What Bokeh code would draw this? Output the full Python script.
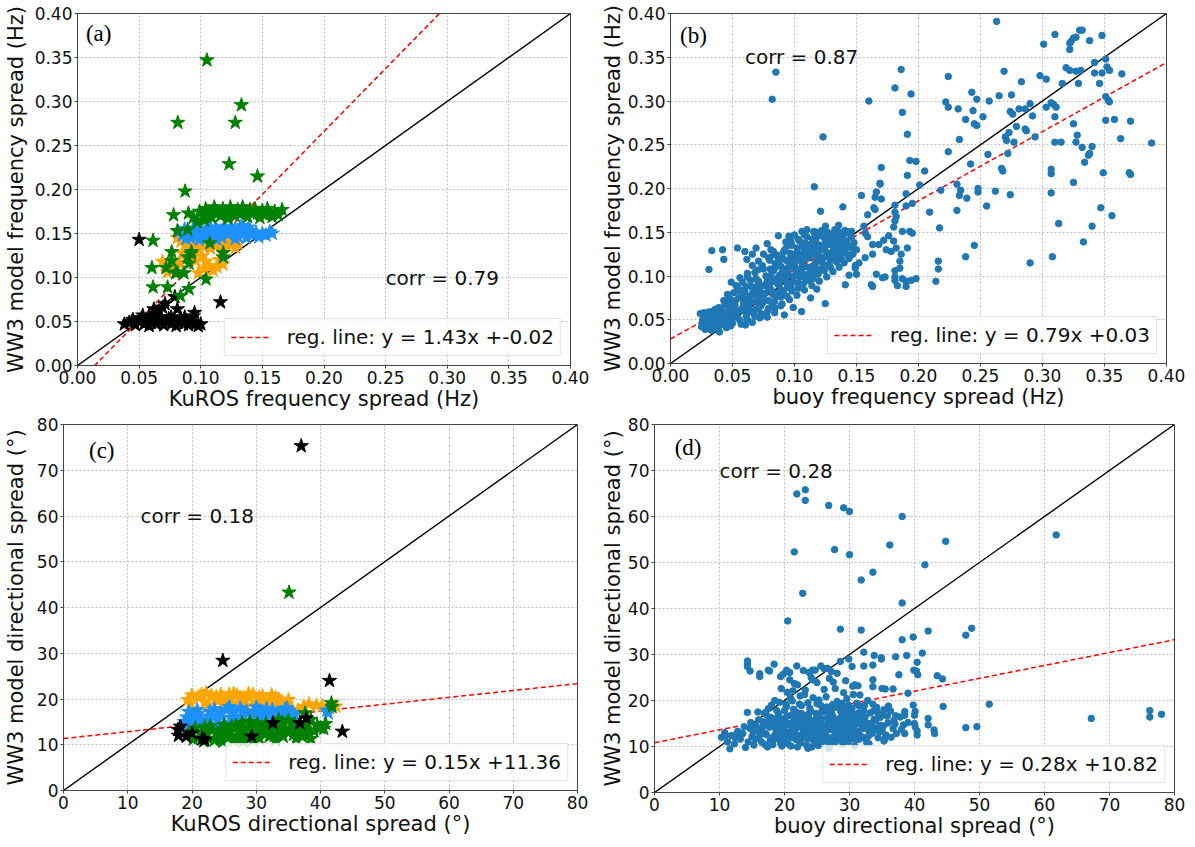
from bokeh.plotting import figure
from bokeh.layouts import column, row
from bokeh.models import Range1d, FixedTicker, Label, NumeralTickFormatter, BasicTickFormatter
from bokeh.embed import file_html
from bokeh.resources import INLINE

# ---------------- data ----------------
freq_ticks = [0.0, 0.05, 0.1, 0.15, 0.2, 0.25, 0.3, 0.35, 0.4]
dir_ticks = [0, 10, 20, 30, 40, 50, 60, 70, 80]

panel_tags = ["(a)", "(b)", "(c)", "(d)"]
corr_texts = ["corr = 0.79", "corr = 0.87", "corr = 0.18", "corr = 0.28"]
reg_slopes = [1.43, 0.79, 0.15, 0.28]
reg_intercepts = [-0.02, 0.028, 11.36, 10.82]
reg_labels = ["reg. line: y = 1.43x +-0.02", "reg. line: y = 0.79x +0.03",
              "reg. line: y = 0.15x +11.36", "reg. line: y = 0.28x +10.82"]

# panel (a): KuROS vs WW3 frequency spread (four groups)
a_orange = [(0.081,0.145),(0.084,0.141),(0.087,0.146),(0.089,0.138),(0.092,0.143),(0.095,0.139),(0.097,0.145),
            (0.100,0.137),(0.102,0.142),(0.105,0.146),(0.107,0.139),(0.110,0.143),(0.112,0.136),(0.115,0.141),
            (0.117,0.145),(0.120,0.138),(0.122,0.143),(0.125,0.137),(0.127,0.142),(0.130,0.139),(0.091,0.134),
            (0.099,0.132),(0.108,0.133),(0.118,0.132),(0.128,0.134),(0.085,0.128),(0.088,0.122),(0.093,0.126),
            (0.096,0.119),(0.101,0.124),(0.104,0.118),(0.107,0.113),(0.110,0.108),(0.113,0.112),(0.103,0.110),
            (0.098,0.105),(0.069,0.118),(0.072,0.113),(0.075,0.117),(0.077,0.110),(0.073,0.106),(0.080,0.112),
            (0.083,0.116),(0.115,0.120),(0.118,0.115)]
a_blue = [(0.082,0.152),(0.085,0.148),(0.087,0.155),(0.090,0.150),(0.092,0.145),(0.095,0.152),(0.097,0.147),
          (0.100,0.155),(0.102,0.150),(0.105,0.145),(0.107,0.153),(0.110,0.148),(0.112,0.156),(0.115,0.151),
          (0.117,0.146),(0.120,0.154),(0.122,0.149),(0.125,0.157),(0.127,0.152),(0.130,0.147),(0.132,0.155),
          (0.135,0.150),(0.137,0.145),(0.140,0.153),(0.142,0.148),(0.145,0.151),(0.147,0.146),(0.150,0.150),
          (0.153,0.148),(0.156,0.152),(0.158,0.150),(0.088,0.144),(0.099,0.143),(0.113,0.143),(0.128,0.144),
          (0.119,0.158),(0.133,0.159),(0.139,0.157),(0.108,0.157),(0.094,0.156)]
a_green = [(0.099,0.175),(0.102,0.170),(0.104,0.178),(0.107,0.173),(0.109,0.168),(0.111,0.180),(0.113,0.175),
           (0.116,0.170),(0.118,0.178),(0.120,0.173),(0.122,0.167),(0.124,0.180),(0.126,0.175),(0.128,0.170),
           (0.130,0.177),(0.132,0.172),(0.134,0.180),(0.136,0.175),(0.138,0.169),(0.140,0.177),(0.142,0.172),
           (0.144,0.178),(0.146,0.173),(0.148,0.168),(0.150,0.176),(0.152,0.171),(0.154,0.178),(0.156,0.173),
           (0.158,0.169),(0.160,0.175),(0.163,0.171),(0.166,0.177),(0.103,0.165),(0.097,0.163),(0.094,0.168),
           (0.105,0.347),(0.133,0.296),(0.0814,0.276),(0.128,0.276),(0.123,0.229),(0.146,0.215),(0.0873,0.198),
           (0.078,0.171),(0.090,0.173),(0.0895,0.1545),(0.081,0.153),(0.0613,0.142),(0.0765,0.129),(0.0604,0.111),
           (0.0613,0.089),(0.0731,0.089),(0.0765,0.119),(0.0718,0.111),(0.0796,0.105),(0.0864,0.105),(0.0904,0.087),
           (0.0836,0.079),(0.1043,0.098),(0.1074,0.139),(0.1183,0.128),(0.1183,0.123),(0.0926,0.129),(0.0895,0.123),
           (0.0905,0.116),(0.092,0.127),(0.081,0.106)]
a_black = [(0.038,0.047),(0.042,0.049),(0.045,0.052),(0.047,0.046),(0.050,0.050),(0.052,0.054),(0.054,0.047),
           (0.056,0.051),(0.058,0.045),(0.060,0.049),(0.062,0.053),(0.064,0.047),(0.066,0.051),(0.068,0.055),
           (0.070,0.046),(0.072,0.050),(0.074,0.053),(0.076,0.047),(0.078,0.051),(0.080,0.045),(0.082,0.049),
           (0.084,0.053),(0.086,0.047),(0.088,0.051),(0.090,0.046),(0.092,0.050),(0.094,0.056),(0.096,0.047),
           (0.098,0.045),(0.100,0.047),(0.058,0.056),(0.063,0.058),(0.066,0.062),(0.069,0.066),(0.071,0.070),
           (0.062,0.064),(0.079,0.078),(0.081,0.064),(0.095,0.060),(0.050,0.143),(0.116,0.072),(0.044,0.050),
           (0.053,0.057),(0.076,0.055),(0.087,0.055)]

# panel (b): buoy vs WW3 frequency spread
b_points = [
    (0.263,0.391),(0.085,0.333),(0.082,0.302),(0.186,0.336),(0.181,0.315),(0.194,0.308),(0.187,0.287),(0.160,0.300),
    (0.123,0.259),(0.191,0.262),(0.116,0.202),(0.121,0.174),(0.139,0.179),(0.224,0.328),(0.222,0.299),(0.224,0.293),
    (0.232,0.291),(0.243,0.310),(0.247,0.302),(0.244,0.289),(0.238,0.279),(0.252,0.282),(0.245,0.274),(0.247,0.272),
    (0.257,0.300),(0.265,0.306),(0.269,0.334),(0.275,0.307),(0.283,0.322),(0.274,0.288),(0.276,0.285),(0.281,0.291),
    (0.286,0.291),(0.279,0.271),(0.273,0.264),(0.270,0.259),(0.271,0.255),(0.277,0.253),(0.272,0.240),(0.286,0.268),
    (0.287,0.266),(0.292,0.283),(0.290,0.297),(0.294,0.259),(0.298,0.329),(0.303,0.325),(0.301,0.365),(0.310,0.376),
    (0.322,0.366),(0.323,0.368),(0.325,0.372),(0.327,0.373),(0.322,0.359),(0.330,0.381),(0.332,0.381),(0.338,0.369),
    (0.348,0.375),(0.316,0.320),(0.319,0.338),(0.322,0.335),(0.327,0.334),(0.331,0.335),(0.329,0.320),(0.342,0.344),
    (0.342,0.332),(0.348,0.332),(0.346,0.320),(0.351,0.348),(0.352,0.339),(0.354,0.335),(0.364,0.331),(0.303,0.293),
    (0.309,0.296),(0.311,0.293),(0.310,0.282),(0.307,0.298),(0.325,0.274),(0.328,0.261),(0.310,0.253),(0.315,0.253),
    (0.327,0.253),(0.332,0.247),(0.340,0.248),(0.337,0.238),(0.338,0.240),(0.334,0.230),(0.307,0.217),(0.307,0.222),
    (0.349,0.218),(0.358,0.279),(0.351,0.278),(0.351,0.305),(0.353,0.301),(0.354,0.299),(0.371,0.277),(0.363,0.257),
    (0.370,0.218),(0.371,0.216),(0.388,0.252),(0.325,0.207),(0.307,0.195),(0.347,0.178),(0.356,0.169),(0.313,0.160),
    (0.340,0.157),(0.333,0.139),(0.308,0.122),(0.290,0.115),(0.262,0.197),(0.274,0.193),(0.255,0.180),(0.248,0.200),
    (0.248,0.196),(0.239,0.189),(0.233,0.192),(0.234,0.198),(0.231,0.205),(0.231,0.175),(0.242,0.228),(0.224,0.242),
    (0.233,0.256),(0.256,0.239),(0.267,0.223),(0.268,0.220),(0.245,0.135),(0.238,0.122),(0.216,0.117),(0.216,0.108),
    (0.214,0.094),(0.217,0.155),(0.209,0.173),(0.218,0.198),(0.205,0.220),(0.201,0.204),(0.198,0.231),(0.193,0.232),
    (0.191,0.215),(0.190,0.194),(0.195,0.183),(0.190,0.180),(0.170,0.224),(0.169,0.206),(0.169,0.205),(0.166,0.196),
    (0.170,0.188),(0.165,0.190),(0.164,0.178),(0.165,0.176),(0.159,0.170),(0.154,0.192),(0.181,0.181),(0.181,0.173),
    (0.182,0.168),(0.181,0.163),(0.180,0.156),(0.187,0.151),(0.193,0.151),(0.195,0.149),(0.176,0.146),(0.180,0.140),
    (0.182,0.132),(0.178,0.128),(0.191,0.132),(0.186,0.125),(0.185,0.117),(0.185,0.109),(0.181,0.106),(0.181,0.099),
    (0.181,0.095),(0.183,0.089),(0.187,0.097),(0.190,0.094),(0.190,0.088),(0.194,0.095),(0.198,0.097),(0.173,0.099),
    (0.171,0.098),(0.166,0.102),(0.162,0.090),(0.163,0.088),(0.174,0.130),(0.172,0.141),(0.168,0.136),(0.163,0.136),
    (0.159,0.145),(0.157,0.149),(0.156,0.157),(0.163,0.125),(0.157,0.121),(0.152,0.115),(0.149,0.109),(0.150,0.102),
    (0.144,0.101),(0.141,0.090),
    (0.024,0.057),(0.026,0.050),(0.027,0.044),(0.028,0.039),(0.029,0.053),(0.030,0.047),(0.031,0.042),(0.032,0.056),
    (0.033,0.038),(0.034,0.049),(0.035,0.044),(0.036,0.053),(0.037,0.058),(0.038,0.041),(0.039,0.047),(0.040,0.052),
    (0.041,0.062),(0.042,0.045),(0.043,0.057),(0.044,0.068),(0.045,0.041),(0.046,0.050),(0.047,0.063),(0.048,0.074),
    (0.049,0.055),(0.050,0.046),(0.051,0.081),(0.052,0.067),(0.053,0.058),(0.054,0.088),(0.055,0.075),(0.056,0.049),
    (0.057,0.062),(0.058,0.093),(0.059,0.070),(0.060,0.082),(0.061,0.054),(0.062,0.099),(0.063,0.065),(0.064,0.077),
    (0.065,0.088),(0.066,0.047),(0.067,0.058),(0.068,0.104),(0.069,0.071),(0.070,0.083),(0.071,0.094),(0.072,0.052),
    (0.073,0.066),(0.074,0.112),(0.075,0.078),(0.076,0.089),(0.077,0.100),(0.078,0.059),(0.079,0.072),(0.080,0.118),
    (0.081,0.084),(0.082,0.095),(0.083,0.106),(0.084,0.063),(0.085,0.077),(0.086,0.124),(0.087,0.090),(0.088,0.101),
    (0.089,0.111),(0.090,0.068),(0.091,0.082),(0.092,0.130),(0.093,0.095),(0.094,0.106),(0.095,0.116),(0.096,0.073),
    (0.097,0.087),(0.098,0.135),(0.099,0.100),(0.100,0.111),(0.101,0.121),(0.102,0.078),(0.103,0.092),(0.104,0.140),
    (0.105,0.105),(0.106,0.116),(0.107,0.126),(0.108,0.084),(0.109,0.097),(0.110,0.145),(0.111,0.110),(0.112,0.121),
    (0.113,0.131),(0.114,0.089),(0.115,0.103),(0.116,0.149),(0.117,0.115),(0.118,0.126),(0.119,0.136),(0.120,0.094),
    (0.121,0.108),(0.122,0.152),(0.123,0.120),(0.124,0.131),(0.125,0.141),(0.126,0.099),(0.127,0.113),(0.128,0.125),
    (0.129,0.136),(0.130,0.146),(0.131,0.105),(0.132,0.118),(0.133,0.130),(0.134,0.141),(0.135,0.151),(0.136,0.110),
    (0.137,0.123),(0.138,0.135),(0.139,0.146),(0.140,0.115),(0.141,0.128),(0.142,0.140),(0.143,0.150),(0.144,0.120),
    (0.145,0.133),(0.146,0.144),(0.147,0.125),(0.148,0.138),(0.149,0.112),(0.150,0.130),
    (0.0255,0.046),(0.0275,0.055),(0.0305,0.040),(0.0345,0.060),(0.0395,0.036),(0.0425,0.052),(0.0465,0.058),
    (0.0485,0.043),(0.0525,0.072),(0.0545,0.052),(0.0565,0.084),(0.0585,0.061),(0.0605,0.044),(0.0625,0.073),
    (0.0645,0.095),(0.0665,0.082),(0.0685,0.062),(0.0705,0.107),(0.0725,0.088),(0.0745,0.070),(0.0765,0.055),
    (0.0785,0.096),(0.0805,0.108),(0.0825,0.079),(0.0845,0.114),(0.0865,0.098),(0.0885,0.085),(0.0905,0.120),
    (0.0925,0.108),(0.0945,0.092),(0.0965,0.126),(0.0985,0.115),(0.1005,0.100),(0.1025,0.132),(0.1045,0.118),
    (0.1065,0.103),(0.1085,0.138),(0.1105,0.124),(0.1125,0.110),(0.1145,0.142),(0.1165,0.130),(0.1185,0.117),
    (0.1205,0.146),(0.1225,0.135),(0.1245,0.122),(0.1265,0.150),(0.1285,0.140),(0.1305,0.127),(0.1325,0.153),
    (0.1345,0.137),(0.1365,0.145),(0.1385,0.128),(0.1405,0.152),(0.1425,0.136),(0.1445,0.148),
    (0.031,0.1075),(0.0333,0.129),(0.042,0.130),(0.043,0.119),(0.054,0.132),(0.0616,0.119),(0.060,0.128),
    (0.069,0.132),(0.066,0.125),(0.0955,0.1455),(0.097,0.140),(0.087,0.146),(0.106,0.151),(0.1156,0.151),
    (0.1356,0.158),(0.142,0.151),(0.146,0.151),(0.078,0.137),(0.083,0.128),(0.075,0.125),(0.100,0.147),
    (0.110,0.153),(0.125,0.157),(0.1248,0.0684),(0.1057,0.0593),(0.0918,0.0555),(0.084,0.058),(0.078,0.053),
    (0.099,0.064),(0.113,0.075),(0.118,0.085),
    (0.052,0.061),(0.047,0.071),(0.058,0.076),(0.063,0.069),(0.055,0.083),(0.061,0.088),(0.067,0.079),(0.071,0.064),
    (0.064,0.059),(0.059,0.066),(0.073,0.081),(0.077,0.091),(0.069,0.097),(0.074,0.072),(0.079,0.084),(0.082,0.069),
    (0.086,0.081),(0.081,0.101),(0.088,0.093),(0.084,0.109),(0.091,0.099),(0.094,0.087),(0.089,0.076),(0.096,0.110),
    (0.093,0.118),(0.099,0.093),(0.101,0.107),(0.097,0.121),(0.104,0.099),(0.102,0.127),(0.106,0.111),(0.109,0.119),
    (0.108,0.131),(0.112,0.103),(0.111,0.136),(0.114,0.124),(0.117,0.108),(0.116,0.139),(0.119,0.121),(0.121,0.132),
    (0.123,0.113),(0.124,0.144),(0.126,0.127),(0.129,0.118),(0.128,0.148),(0.131,0.134),(0.133,0.122),(0.134,0.146),
    (0.137,0.131),(0.139,0.140),(0.038,0.052),(0.041,0.058),(0.044,0.047),(0.039,0.064),(0.043,0.072),(0.048,0.066),
    (0.051,0.054),(0.046,0.079),(0.053,0.089),(0.049,0.093),(0.056,0.098),(0.062,0.103),(0.066,0.112),(0.071,0.117),
    (0.075,0.108),(0.079,0.121),(0.083,0.124),(0.087,0.118),(0.091,0.127),(0.094,0.134),(0.057,0.045),(0.062,0.050),
    (0.068,0.054),(0.073,0.057),(0.079,0.063),(0.084,0.071),(0.089,0.066),(0.094,0.077),(0.098,0.083),(0.103,0.086),
    (0.107,0.091),(0.111,0.095),(0.115,0.097),(0.119,0.102),(0.124,0.106),(0.129,0.110),(0.134,0.116),(0.138,0.119),
    (0.143,0.124),(0.147,0.131),(0.029,0.049),(0.032,0.051),(0.035,0.047),(0.031,0.059),(0.036,0.062),(0.034,0.043),
    (0.037,0.050),(0.027,0.058),(0.025,0.042),(0.040,0.044),(0.065,0.071),(0.070,0.076),(0.076,0.080),(0.080,0.088),
    (0.085,0.093),(0.090,0.104),(0.095,0.101),(0.100,0.115),(0.105,0.120),(0.110,0.128),(0.115,0.133),(0.120,0.128),
    (0.125,0.135),(0.130,0.141),(0.135,0.129),(0.140,0.135),(0.060,0.060),(0.069,0.088),(0.078,0.098),(0.088,0.112),
    (0.098,0.125),(0.107,0.136),(0.117,0.142),(0.127,0.145),(0.132,0.149),(0.118,0.150),(0.108,0.147),(0.103,0.142),
    (0.093,0.139),(0.081,0.130)]

# panel (c): KuROS vs WW3 directional spread (four groups)
c_orange = [(19.4,19.8),(21.0,20.5),(22.0,19.3),(23.0,20.8),(24.0,19.6),(25.0,20.2),(26.0,19.0),(27.0,20.9),
            (28.0,19.8),(29.0,20.5),(30.0,19.2),(31.0,20.6),(32.0,19.7),(33.0,20.3),(34.0,19.4),(34.8,18.8),
            (22.5,18.6),(25.5,18.4),(28.5,18.5),(31.5,18.3),(26.5,21.2),(29.5,21.0),(35.6,17.7),(36.5,17.6),
            (38.2,18.9),(40.3,18.5),(42.4,18.4),(41.5,18.0),(24.5,21.0),(21.5,21.0),
            (20.0,20.8),(22.2,21.3),(23.8,20.5),(25.8,21.0),(27.5,20.3),(28.8,21.2),(30.5,20.4),(32.4,20.9),
            (33.6,19.9),(35.0,19.8),(24.8,18.8),(27.2,18.7),(30.2,18.8),(33.2,18.7),(37.4,18.3),(39.4,18.6),
            (19.8,19.0)]
c_blue = [(18.8,15.0),(19.2,16.0),(20.0,14.5),(20.5,15.6),(21.0,16.8),(22.0,15.0),(22.5,16.2),(23.0,14.3),
          (24.0,15.5),(24.5,16.9),(25.0,14.6),(26.0,15.9),(26.5,17.2),(27.0,14.8),(28.0,16.1),(28.5,17.3),
          (29.0,15.0),(30.0,16.4),(30.5,17.5),(31.0,15.3),(32.0,16.6),(32.5,17.7),(33.0,15.6),(34.0,16.9),
          (34.5,17.8),(35.0,16.2),(19.5,17.2),(23.5,17.8),(27.5,18.0),(41.2,16.9),(41.0,17.5),(36.0,16.5),
          (19.0,14.2),(20.2,16.6),(21.5,15.1),(22.8,17.2),(23.8,16.4),(25.4,17.6),(26.8,16.0),(27.8,17.2),
          (29.4,16.6),(30.8,16.4),(31.6,17.9),(33.4,17.0),(34.8,18.0),(35.6,17.0),(24.2,14.2),(27.6,15.0),
          (31.4,15.0),(20.8,17.6),(25.8,18.3),(30.0,18.2)]
c_green = [(19.5,12.5),(20.5,13.6),(21.0,11.5),(22.0,12.8),(22.8,14.0),(23.5,11.0),(24.0,12.3),(24.8,13.5),
           (25.5,11.6),(26.0,12.9),(26.8,14.2),(27.5,11.2),(28.0,12.5),(28.8,13.8),(29.5,11.0),(30.0,12.2),
           (30.8,13.5),(31.5,14.7),(32.0,11.8),(32.5,13.0),(33.0,14.3),(33.8,12.5),(34.5,13.6),(35.0,15.3),
           (35.8,12.2),(36.5,13.8),(37.2,11.8),(37.6,16.9),(38.5,15.5),(38.5,11.3),(39.5,14.2),(40.0,13.7),
           (40.5,13.5),(41.7,19.1),(41.8,18.3),(35.1,43.3),(26.5,11.0),(29.0,15.0),(33.5,15.5),
           (20.2,11.2),(21.5,12.6),(22.5,11.4),(23.2,13.2),(24.5,11.2),(25.2,12.6),(26.2,14.0),(27.0,12.0),
           (27.8,13.4),(28.5,11.6),(29.2,12.8),(30.5,11.4),(31.2,12.6),(31.8,13.8),(32.8,12.0),(33.5,13.2),
           (34.2,11.8),(35.2,13.4),(36.0,14.6),(36.8,12.8),(37.5,13.5),(38.0,14.6),(39.0,13.0),(40.8,14.6),
           (34.0,14.8),(30.2,14.6),(27.8,14.8),(25.0,14.3),(22.0,13.9),(38.2,12.2),(36.2,11.4),(33.0,11.0),
           (28.0,10.8),(24.8,10.7),(21.8,10.8)]
c_black = [(37.0,75.3),(24.8,28.4),(41.4,24.0),(43.4,12.9),(36.8,14.75),(32.6,14.75),(17.8,13.3),(17.9,12.0),
           (19.1,11.8),(21.6,11.3),(29.3,11.8),(18.2,14.0),(20.0,12.5),(37.8,15.8),(22.0,11.0)]

# panel (d): buoy vs WW3 directional spread
d_points = [
    (23.2,65.8),(21.9,64.9),(23.2,63.5),(26.8,62.4),(29.1,61.9),(30.0,61.1),(38.1,60.0),(61.8,56.0),(44.8,54.6),
    (36.2,53.8),(27.7,52.8),(21.5,52.3),(30.0,51.7),(41.6,49.5),(33.6,47.9),(31.8,46.2),(22.8,43.3),(38.1,41.2),
    (20.5,37.3),(48.8,35.7),(28.6,35.5),(31.8,35.3),(42.1,35.1),(47.9,34.2),(39.8,33.8),(38.1,33.2),(51.5,19.2),
    (67.2,16.1),(76.2,17.8),(76.2,16.4),(78.0,17.0),(47.9,14.1),(49.6,14.3),(44.4,18.7),(42.1,16.1),(43.5,25.4),
    (44.3,24.7),(41.2,30.3),(40.4,28.3),(38.8,29.8),(37.1,29.5),(34.9,29.3),(33.8,29.8),(34.9,29.0),(32.2,30.5),
    (32.2,27.5),(33.6,27.7),(36.7,22.5),(37.6,25.6),(33.6,24.5),(33.6,23.0),(35.0,22.6),(35.5,22.5),(40.3,26.4),
    (40.5,25.6),(39.9,26.6),(39.0,21.6),(39.8,19.0),(40.1,17.6),(40.0,16.8),(40.0,15.0),(40.1,14.3),(40.4,13.4),
    (40.4,12.5),(42.1,14.7),(43.0,13.6),(43.1,12.8),(38.5,12.8),(38.5,17.6),(38.5,16.8),(37.1,16.7),(35.3,11.2),
    (32.7,10.7),(30.5,11.8),(28.7,11.4),(23.6,9.6),
    (10.3,12.0),(10.8,13.0),(11.2,11.0),(11.6,9.5),(11.9,12.4),(12.3,10.6),(12.8,13.3),(13.2,11.6),(13.6,12.8),
    (14.0,9.8),(14.3,17.4),(14.4,11.0),(14.7,13.9),(15.0,12.2),(15.3,10.3),(15.6,14.6),(15.9,17.5),(16.1,11.7),
    (16.4,13.1),(16.7,15.4),(17.0,10.4),(17.2,12.6),(17.5,18.2),(17.7,14.2),(17.9,16.3),(18.1,10.9),(18.3,12.1),
    (18.5,20.0),(18.7,13.5),(18.9,15.1),(19.1,17.1),(19.3,11.3),(19.5,22.6),(19.7,12.8),(19.9,14.4),(20.1,16.2),
    (20.3,18.7),(20.5,10.6),(20.7,13.0),(20.9,20.6),(21.1,11.9),(21.3,15.3),(21.5,23.7),(21.7,14.0),(21.9,17.4),
    (22.1,12.4),(22.3,19.2),(22.5,10.8),(22.7,15.8),(22.9,13.1),(23.1,21.3),(23.3,16.6),(23.5,11.7),(23.7,14.5),
    (23.9,18.3),(24.1,12.9),(24.3,24.5),(24.5,15.4),(24.7,10.9),(24.9,17.2),(25.1,13.6),(25.3,20.1),(25.5,11.8),
    (25.7,16.0),(25.9,14.2),(26.1,22.4),(26.3,12.5),(26.5,18.6),(26.7,15.1),(26.9,10.5),(27.1,13.7),(27.3,17.0),
    (27.5,24.0),(27.7,12.2),(27.9,15.7),(28.1,19.8),(28.3,13.2),(28.5,11.4),(28.7,16.5),(28.9,14.3),(29.1,21.7),
    (29.3,12.7),(29.5,18.1),(29.7,15.0),(29.9,11.1),(30.1,13.9),(30.3,17.5),(30.5,23.1),(30.7,12.4),(30.9,15.8),
    (31.1,19.4),(31.3,13.3),(31.5,11.6),(31.7,16.8),(31.9,14.6),(32.1,12.0),(32.3,18.9),(32.5,15.2),(32.7,10.8),
    (32.9,13.6),(33.2,17.3),(33.5,12.9),(33.8,15.9),(34.1,14.0),(34.4,11.9),(34.7,16.3),(35.0,13.4),(35.3,18.0),
    (35.6,12.5),(35.9,15.1),(36.3,17.7),(36.7,13.9),(37.2,12.8),(37.8,16.4),(38.3,14.7),
    (17.3,14.8),(17.8,11.4),(18.2,15.9),(18.6,12.6),(19.0,13.9),(19.4,15.6),(19.8,11.9),(20.2,13.3),(20.6,15.0),
    (21.0,16.8),(21.4,12.6),(21.8,13.9),(22.2,15.5),(22.6,17.2),(23.0,12.0),(23.4,13.5),(23.8,16.0),(24.2,14.0),
    (24.6,12.2),(25.0,15.8),(25.4,13.0),(25.8,17.5),(26.2,14.6),(26.6,11.8),(27.0,16.2),(27.4,13.9),(27.8,11.0),
    (28.2,15.0),(28.6,17.8),(29.0,13.0),(29.4,14.8),(29.8,16.9),(30.2,12.2),(30.6,14.4),(31.0,16.0),(31.4,12.8),
    (16.2,12.6),(15.5,11.6),(14.8,15.2),(16.9,17.3),(18.0,19.0),(19.2,19.6),(20.4,21.8),(21.2,19.9),(22.4,21.0),
    (23.6,19.5),(24.4,20.6),(25.6,18.9),(26.4,20.8),(27.6,18.4),(28.8,19.4),(29.6,20.4),(30.4,18.3),(31.6,21.2),
    (32.8,20.0),(33.6,19.2),(34.2,18.5),(25.2,10.2),(26.8,9.6),(22.0,9.9),(19.6,10.1),(17.4,9.9),
    (14.3,28.6),(14.3,27.9),(14.3,27.4),(14.7,26.4),(16.2,25.8),(16.2,25.2),(17.5,26.6),(17.7,26.4),(18.4,27.9),
    (19.4,25.2),(19.8,25.7),(20.3,26.6),(20.8,26.1),(20.8,24.5),(21.9,27.5),(22.0,23.4),(22.9,26.5),(23.8,26.1),
    (24.3,26.6),(24.7,26.6),(25.6,27.5),(26.1,26.9),(26.6,27.0),(27.2,26.3),(28.1,25.9),(28.6,28.5),(29.9,29.0),
    (30.4,27.4),(29.4,24.3),(30.8,23.4),(31.3,23.2),(30.6,21.3),(31.5,18.8),(23.2,22.3),(25.0,23.9),(27.8,22.6),
    (26.9,24.8),(21.3,22.1),(24.1,25.0),
    (18.4,14.6),(19.6,12.2),(20.8,14.7),(21.6,16.3),(22.8,12.7),(23.2,15.0),(24.0,17.7),(24.8,13.8),(25.6,15.1),
    (26.0,12.9),(26.9,14.1),(27.2,11.9),(28.0,13.6),(28.4,16.0),(29.2,12.4),(29.6,14.0),(30.0,15.4),(30.8,13.1),
    (31.2,14.9),(32.0,13.9),(32.4,16.4),(33.0,12.4),(33.4,14.4),(34.0,15.6),(34.6,13.2),(35.2,14.4),(35.8,16.6),
    (36.4,12.0),(37.0,14.9),(16.6,14.2),(17.0,12.9),(17.6,15.7),(18.8,17.8),(19.3,14.1),(20.0,11.6),(20.4,16.6),
    (21.2,13.6),(21.8,11.5),(22.4,14.3),(23.0,16.3),(23.6,13.0),(24.4,11.4),(24.8,15.9),(25.2,16.7),(25.9,11.1),
    (26.4,13.4),(26.8,17.4),(27.2,15.6),(27.6,14.5),(28.4,12.2),(28.8,15.6),(29.2,17.2),(29.8,13.5),(30.4,16.5),
    (31.0,11.4),(31.8,15.3),(32.6,11.5),(33.2,15.0),(34.4,17.2),(35.4,11.6),(19.0,16.6),(20.0,17.8),(21.4,18.1),
    (22.6,18.9),(23.8,17.2),(25.0,19.3),(26.2,17.9),(27.4,19.1),(28.6,18.6),(29.8,19.0),(30.8,17.0),(32.2,17.8),
    (33.8,17.8),(35.0,16.9),(36.0,18.8),(15.8,13.6),(16.5,10.9),(18.2,10.4),(21.0,10.1),(23.4,10.3),(24.2,9.9),
    (27.0,10.2),(29.0,10.4),(30.8,10.1),(33.0,10.6),(20.6,12.3),(22.2,11.3),(24.0,12.6),(25.8,13.3),(27.8,12.7),
    (29.4,11.7),(31.6,12.3),(33.6,13.7),(19.8,15.2),(21.6,14.8),(23.4,14.0),(25.4,14.4),(27.4,16.7),(29.6,16.2),
    (31.4,17.3),(22.0,16.0),(24.6,14.9),(26.6,16.3),(28.2,14.1),(30.2,14.8),(32.8,14.8),(34.8,14.6),(36.8,15.6),
    (38.0,13.7),(39.0,15.2),(13.0,12.2),(13.8,14.3),(12.4,12.0),(11.0,12.4),(15.2,13.2),(16.0,15.8),(17.2,16.9),
    (18.6,11.7),(19.4,10.7),(20.2,19.2)]

# ---------------- styling ----------------
FONT = "DejaVu Sans"
ORANGE, BLUE, GREEN, BLACK = "#ffa500", "#1e90ff", "#008000", "#000000"
DOT = "#1f77b4"


def xs(pts):
    return [p[0] for p in pts]


def ys(pts):
    return [p[1] for p in pts]


def make_panel(fw, fh, bl, bt, br, bb, xmax, ticks, fmt, xlabel, ylabel, lab_off, idx,
               tag_xy, corr_xy):
    p = figure(frame_width=fw, frame_height=fh, x_range=Range1d(0, xmax), y_range=Range1d(0, xmax),
               output_backend="svg", toolbar_location=None,
               min_border_left=bl, min_border_top=bt, min_border_right=br, min_border_bottom=bb)
    p.background_fill_color = "white"
    p.border_fill_color = "white"
    p.outline_line_color = "#444444"
    p.outline_line_width = 1
    for ax in (p.xaxis[0], p.yaxis[0]):
        ax.ticker = FixedTicker(ticks=ticks)
        ax.formatter = fmt
        ax.axis_line_color = None
        ax.major_tick_line_color = "#444444"
        ax.major_tick_out = 3
        ax.major_tick_in = 0
        ax.minor_tick_line_color = None
        ax.major_label_text_font = FONT
        ax.major_label_text_font_size = "17px"
        ax.major_label_text_color = "#111111"
        ax.major_label_standoff = 2
        ax.axis_label_text_font = FONT
        ax.axis_label_text_font_size = "21px"
        ax.axis_label_text_font_style = "normal"
        ax.axis_label_text_color = "#111111"
    p.xaxis.axis_label = xlabel
    p.yaxis.axis_label = ylabel
    p.xaxis.axis_label_standoff = 0
    p.yaxis.axis_label_standoff = lab_off
    p.xgrid.ticker = FixedTicker(ticks=ticks)
    p.ygrid.ticker = FixedTicker(ticks=ticks)
    p.grid.grid_line_color = "#bdbdbd"
    p.grid.grid_line_dash = "2 2"
    p.grid.grid_line_width = 1

    p.line([0, xmax], [0, xmax], line_color="black", line_width=1.4)
    s, c = reg_slopes[idx], reg_intercepts[idx]
    p.line([0, xmax], [c, s * xmax + c], line_color="red", line_width=1.5, line_dash="5 3",
           legend_label=reg_labels[idx])
    lg = p.legend[0]
    lg.location = "bottom_right"
    lg.margin = 9
    lg.padding = 6
    lg.spacing = 0
    lg.glyph_width = 38
    lg.glyph_height = 22
    lg.label_standoff = 18
    lg.label_text_font = FONT
    lg.label_text_font_size = "20px"
    lg.label_text_color = "#111111"
    lg.border_line_color = "#cccccc"
    lg.border_line_width = 1
    lg.background_fill_alpha = 0.8

    p.add_layout(Label(x=tag_xy[0], y=tag_xy[1], text=panel_tags[idx], text_font="Liberation Serif",
                       text_font_size="23px", text_baseline="top", text_color="black"))
    p.add_layout(Label(x=corr_xy[0], y=corr_xy[1], text=corr_texts[idx], text_font=FONT,
                       text_font_size="20px", text_baseline="alphabetic", text_color="#111111"))
    return p


STAR = 15
pa = make_panel(493, 352, 72, 10, 27, 50, 0.4, freq_ticks, NumeralTickFormatter(format="0.00"),
                "KuROS frequency spread (Hz)", "WW3 model frequency spread (Hz)", 4, 0,
                (0.0068, 0.391), (0.25, 0.10))
for pts, col in ((a_black, BLACK), (a_orange, ORANGE), (a_blue, BLUE), (a_green, GREEN)):
    pa.scatter(xs(pts), ys(pts), marker="star", size=STAR, fill_color=col, line_color=col)

pb = make_panel(496, 350, 68, 13, 23, 50, 0.4, freq_ticks, NumeralTickFormatter(format="0.00"),
                "buoy frequency spread (Hz)", "WW3 model frequency spread (Hz)", 0, 1,
                (0.0077, 0.389), (0.06, 0.35))
pb.scatter(xs(b_points), ys(b_points), size=6.5, fill_color=DOT, line_color=DOT)

pc = make_panel(514, 366, 58, 11, 20, 44, 80, dir_ticks, BasicTickFormatter(),
                "KuROS directional spread (°)", "WW3 model directional spread (°)", 6, 2,
                (3.97, 77.0), (12, 60))
for pts, col in ((c_orange, ORANGE), (c_blue, BLUE), (c_green, GREEN), (c_black, BLACK)):
    pc.scatter(xs(pts), ys(pts), marker="star", size=STAR, fill_color=col, line_color=col)

pd_ = make_panel(520, 368, 51, 9, 16, 44, 80, dir_ticks, BasicTickFormatter(),
                 "buoy directional spread (°)", "WW3 model directional spread (°)", 0, 3,
                 (3.1, 77.8), (10, 70))
pd_.scatter(xs(d_points), ys(d_points), size=6.5, fill_color=DOT, line_color=DOT)

layout = column(row(pa, pb), row(pc, pd_))
open("out.html", "w").write(file_html(layout, INLINE))
